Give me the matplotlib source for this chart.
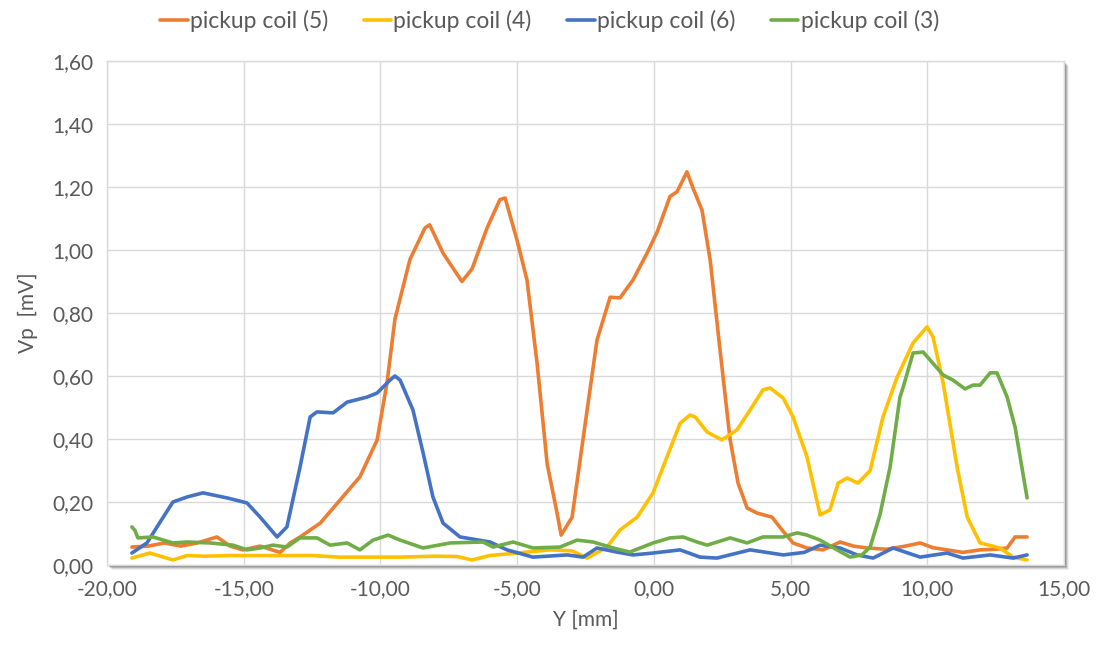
import matplotlib
matplotlib.use("Agg")
import matplotlib.pyplot as plt
from matplotlib.patches import Rectangle
from matplotlib.ticker import FuncFormatter, MultipleLocator

# Pickup coil voltage profiles along Y
coil5_x = [-19.09, -18.5, -17.9, -17.3, -16.7, -15.98, -15.5, -15.03, -14.4, -13.67, -13.3,
           -12.94, -12.2, -11.48, -10.75, -10.12, -9.76, -9.47, -8.92, -8.37, -8.2, -7.71,
           -7.02, -6.65, -6.1, -5.63, -5.44, -5.0, -4.64, -4.27, -3.9, -3.54, -3.39, -2.99,
           -2.63, -2.08, -1.6, -1.24, -0.76, -0.25, 0.12, 0.59, 0.85, 1.21, 1.43, 1.76, 2.06,
           2.42, 2.79, 3.08, 3.41, 3.77, 4.32, 4.69, 5.09, 5.6, 6.19, 6.81, 7.3, 7.8, 8.5,
           9.2, 9.74, 10.2, 10.72, 11.3, 11.93, 12.5, 12.92, 13.21, 13.65]
coil5_y = [0.057, 0.06, 0.07, 0.06, 0.07, 0.089, 0.06, 0.048, 0.06, 0.04, 0.07,
           0.089, 0.133, 0.206, 0.28, 0.397, 0.578, 0.78, 0.97, 1.07, 1.08, 0.99,
           0.90, 0.94, 1.07, 1.16, 1.165, 1.03, 0.905, 0.64, 0.32, 0.165, 0.095, 0.152,
           0.375, 0.714, 0.85, 0.848, 0.905, 0.99, 1.057, 1.17, 1.185, 1.248, 1.197, 1.127, 0.968,
           0.683, 0.397, 0.26, 0.181, 0.165, 0.152, 0.111, 0.07, 0.054, 0.048, 0.073, 0.06, 0.054, 0.05,
           0.06, 0.07, 0.055, 0.048, 0.04, 0.048, 0.05, 0.054, 0.089, 0.089]

coil4_x = [-19.09, -18.43, -17.59, -17.07, -16.5, -15.5, -14.5, -13.5, -12.5, -11.5, -10.5,
           -9.28, -8.0, -7.2, -6.65, -6.0, -5.0, -3.8, -3.0, -2.44, -1.71, -1.24, -0.61,
           -0.03, 0.48, 0.96, 1.32, 1.51, 1.95, 2.49, 3.04, 3.52, 3.99, 4.25, 4.73, 5.09,
           5.6, 6.08, 6.44, 6.74, 7.07, 7.47, 7.91, 8.38, 8.9, 9.48, 9.99, 10.21, 10.58,
           11.09, 11.46, 11.93, 12.66, 13.14, 13.65]
coil4_y = [0.022, 0.038, 0.016, 0.03, 0.028, 0.03, 0.03, 0.03, 0.03, 0.025, 0.025,
           0.025, 0.028, 0.027, 0.016, 0.03, 0.038, 0.048, 0.045, 0.022, 0.057, 0.111, 0.152,
           0.229, 0.343, 0.45, 0.476, 0.47, 0.422, 0.397, 0.429, 0.492, 0.556, 0.562, 0.53, 0.47,
           0.343, 0.159, 0.175, 0.26, 0.276, 0.26, 0.30, 0.47, 0.597, 0.705, 0.756, 0.724, 0.578,
           0.311, 0.152, 0.07, 0.054, 0.025, 0.016]

coil6_x = [-19.09, -18.54, -18.17, -17.59, -17.07, -16.49, -15.61, -14.88, -14.4, -13.78,
           -13.42, -12.94, -12.57, -12.32, -11.73, -11.22, -10.49, -10.12, -9.65, -9.47,
           -9.28, -8.81, -8.44, -8.08, -7.71, -7.09, -5.99, -5.37, -4.42, -3.17, -2.59,
           -2.08, -1.35, -0.76, -0.03, 0.96, 1.69, 2.31, 3.52, 4.73, 5.5, 6.08, 6.81, 7.43,
           8.02, 8.75, 9.74, 10.72, 11.31, 12.3, 13.14, 13.65]
coil6_y = [0.038, 0.07, 0.121, 0.2, 0.216, 0.229, 0.213, 0.197, 0.152, 0.089,
           0.121, 0.311, 0.47, 0.486, 0.483, 0.517, 0.533, 0.546, 0.587, 0.6,
           0.587, 0.492, 0.356, 0.216, 0.133, 0.089, 0.073, 0.048, 0.025, 0.032, 0.025,
           0.054, 0.041, 0.032, 0.038, 0.048, 0.025, 0.022, 0.048, 0.032, 0.04, 0.063, 0.054, 0.032,
           0.022, 0.054, 0.025, 0.038, 0.022, 0.032, 0.022, 0.032]

coil3_x = [-19.09, -18.98, -18.87, -18.32, -17.59, -17.07, -16.23, -15.39, -14.88, -14.4,
           -13.93, -13.42, -12.94, -12.32, -11.84, -11.22, -10.75, -10.27, -9.72, -9.28,
           -8.44, -7.45, -6.25, -5.88, -5.15, -4.42, -3.43, -2.81, -2.22, -1.49, -0.88,
           -0.03, 0.59, 1.07, 1.58, 1.95, 2.79, 3.41, 3.99, 4.73, 5.24, 5.6, 6.08, 6.7,
           7.18, 7.61, 7.91, 8.27, 8.64, 9.0, 9.12, 9.48, 9.85, 10.1, 10.58, 10.94, 11.38,
           11.67, 11.93, 12.3, 12.55, 12.92, 13.21, 13.65]
coil3_y = [0.121, 0.11, 0.086, 0.089, 0.07, 0.073, 0.07, 0.063, 0.048, 0.054,
           0.063, 0.057, 0.086, 0.086, 0.063, 0.07, 0.048, 0.079, 0.095, 0.079,
           0.054, 0.07, 0.073, 0.057, 0.073, 0.054, 0.057, 0.079, 0.073, 0.054, 0.041,
           0.07, 0.086, 0.089, 0.073, 0.063, 0.086, 0.07, 0.089, 0.089, 0.102, 0.095, 0.079, 0.048,
           0.025, 0.032, 0.057, 0.16, 0.311, 0.533, 0.565, 0.673, 0.676, 0.651, 0.603, 0.587, 0.559,
           0.571, 0.571, 0.61, 0.61, 0.533, 0.438, 0.213]

series = [
    ("pickup coil (5)", coil5_x, coil5_y, "#ED7D31"),
    ("pickup coil (4)", coil4_x, coil4_y, "#FFC000"),
    ("pickup coil (6)", coil6_x, coil6_y, "#4472C4"),
    ("pickup coil (3)", coil3_x, coil3_y, "#70AD47"),
]

plt.rcParams["font.family"] = ["Lato", "DejaVu Sans"]
text_color = "#595959"
grid_color = "#D9D9D9"

W, H = 1099, 648
fig = plt.figure(figsize=(W / 100, H / 100), dpi=100)
L, R, B, T = 107, 1064, 565, 61

# soft drop shadow below / right of the plot area
shadow_ax = fig.add_axes([0, 0, 1, 1], zorder=0)
shadow_ax.set_axis_off()
shadow_ax.set_xlim(0, W)
shadow_ax.set_ylim(H, 0)
for off, a in [(5, 0.08), (4, 0.14), (3, 0.22), (2, 0.35)]:
    shadow_ax.add_patch(Rectangle((L + off, T + off), R - L, B - T,
                                  facecolor="#404040", edgecolor="none", alpha=a))

ax = fig.add_axes([L / W, 1 - B / H, (R - L) / W, (B - T) / H], zorder=1)
ax.set_facecolor("white")

for name, xs, ys, col in series:
    ax.plot(xs, ys, color=col, lw=2.6, label=name, solid_joinstyle="round",
            solid_capstyle="round")

ax.set_xlim(-20, 15)
ax.set_ylim(0, 1.6)
ax.xaxis.set_major_locator(MultipleLocator(5))
ax.yaxis.set_major_locator(MultipleLocator(0.2))
fmt = FuncFormatter(lambda v, p: f"{v:.2f}".replace(".", ","))
ax.xaxis.set_major_formatter(fmt)
ax.yaxis.set_major_formatter(fmt)
ax.grid(True, color=grid_color, lw=1.0)
ax.set_axisbelow(True)
for s in ax.spines.values():
    s.set_color(grid_color)
    s.set_linewidth(1.0)
ax.tick_params(length=0, labelsize=15, colors=text_color, pad=10)
ax.set_xlabel("Y [mm]", fontsize=15, color=text_color, labelpad=8)
ax.set_ylabel("Vp  [mV]", fontsize=15, color=text_color, labelpad=10)

fig.legend(loc="upper center", bbox_to_anchor=(0.5, 1.01), ncol=4, frameon=False,
           fontsize=16.5, labelcolor=text_color, handlelength=1.2, handletextpad=0.1,
           columnspacing=1.55, borderaxespad=0.3)

fig.savefig("out.png", dpi=100)
